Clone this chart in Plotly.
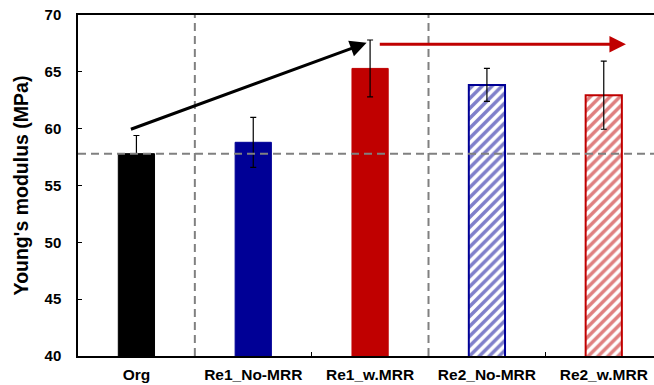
import plotly.graph_objects as go

categories = ["Org", "Re1_No-MRR", "Re1_w.MRR", "Re2_No-MRR", "Re2_w.MRR"]
modulus = [57.8, 58.8, 65.3, 63.85, 62.95]
errors = [1.6, 2.2, 2.5, 1.45, 3.0]
bar_colors = ["#000000", "#000096", "#C00000", "#000096", "#C00000"]
hatched = [False, False, False, True, True]
y_ticks = [40, 45, 50, 55, 60, 65, 70]
baseline = modulus[0]
dividers = [0.5, 2.5]

FONT = "Liberation Sans, Arial, sans-serif"

fig = go.Figure()
for cat, val, err, col, hat in zip(categories, modulus, errors, bar_colors, hatched):
    if hat:
        marker = dict(color="#FFFFFF", line=dict(color=col, width=2),
                      pattern=dict(shape="/", fgcolor=col, bgcolor="#FFFFFF",
                                   size=7, solidity=0.5, fillmode="overlay"))
    else:
        marker = dict(color=col, line=dict(color=col, width=1))
    fig.add_trace(go.Bar(
        x=[cat], y=[val], width=0.31, marker=marker,
        error_y=dict(type="data", array=[err], color="#000000", thickness=1.2, width=3),
        showlegend=False,
    ))

shapes = [dict(type="line", xref="paper", yref="y", x0=0, x1=1, y0=baseline, y1=baseline,
               line=dict(color="#808080", width=2, dash="8px,5px"), layer="above")]
for d in dividers:
    shapes.append(dict(type="line", xref="x", yref="paper", x0=d, x1=d, y0=0, y1=1,
                       line=dict(color="#808080", width=2, dash="8px,5px"), layer="above"))

annotations = [
    dict(x=1.97, y=67.55, ax=-0.06, ay=59.9, xref="x", yref="y", axref="x", ayref="y",
         text="", showarrow=True, arrowhead=2, arrowsize=1.1, arrowwidth=3, arrowcolor="#000000"),
    dict(x=4.19, y=67.42, ax=2.07, ay=67.42, xref="x", yref="y", axref="x", ayref="y",
         text="", showarrow=True, arrowhead=2, arrowsize=1.1, arrowwidth=3, arrowcolor="#C00000"),
]

fig.update_layout(
    width=654, height=385,
    margin=dict(l=78, r=0, t=15, b=29, autoexpand=False),
    paper_bgcolor="white", plot_bgcolor="white",
    font=dict(family=FONT, size=15, color="#000000"),
    shapes=shapes, annotations=annotations,
    barmode="overlay",
)
fig.update_xaxes(
    type="category", categoryorder="array", categoryarray=categories,
    range=[-0.5, 4.43], automargin=False,
    showline=True, linecolor="#000000", linewidth=1.5, mirror=True,
    ticks="inside", ticklen=4, tickcolor="#000000", tickson="boundaries",
    tickfont=dict(family=FONT, size=15.5, color="#000000", weight="bold"),
    ticklabelstandoff=4, showgrid=False,
)
fig.update_yaxes(
    range=[40, 70], tickvals=y_ticks, automargin=False,
    showline=True, linecolor="#000000", linewidth=1.5,
    ticks="inside", ticklen=4, tickcolor="#000000",
    tickfont=dict(family=FONT, size=15, color="#000000", weight="bold"),
    ticklabelstandoff=12, showgrid=False, zeroline=False,
    title=dict(text="Young's modulus (MPa)", standoff=11,
               font=dict(family=FONT, size=19.5, color="#000000", weight="bold")),
)

fig.write_html("out.html", config={"displayModeBar": False},
               post_script="document.body.style.margin='0';document.body.style.overflow='hidden';")
